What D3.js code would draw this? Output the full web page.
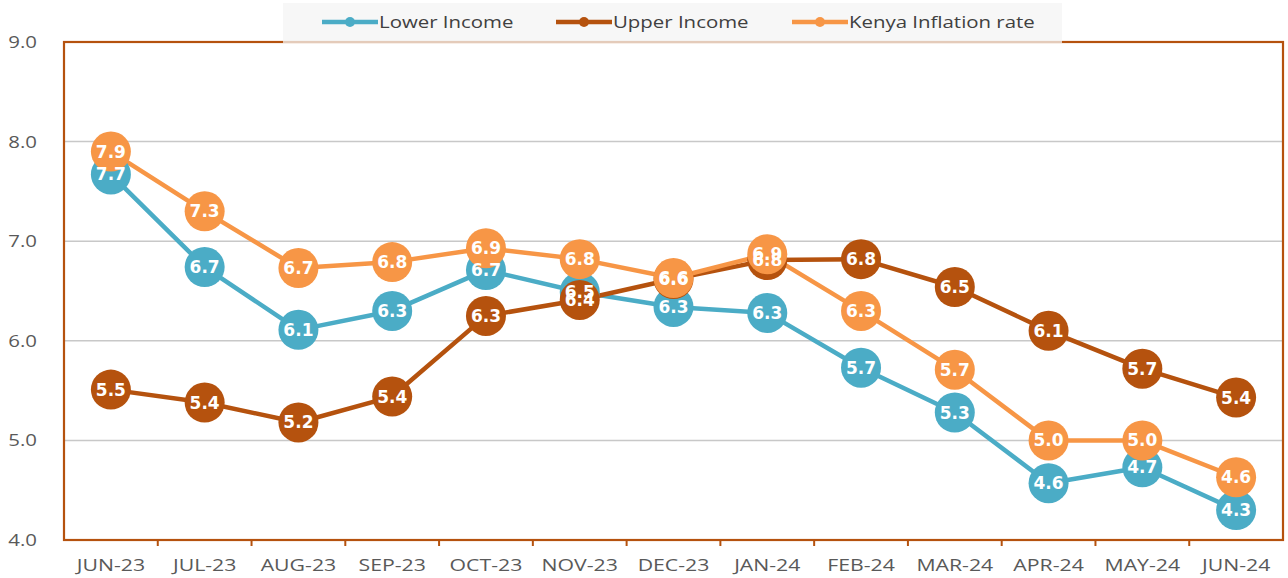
<!DOCTYPE html>
<html><head><meta charset="utf-8">
<script src="https://cdn.jsdelivr.net/npm/d3@7"></script>
<style>body{margin:0;background:#fff}svg{display:block}</style>
</head><body>
<svg id="c" width="1288" height="578"></svg>
<script>
const months = ["JUN-23","JUL-23","AUG-23","SEP-23","OCT-23","NOV-23","DEC-23","JAN-24","FEB-24","MAR-24","APR-24","MAY-24","JUN-24"];
const lowerIncome = [7.67,6.74,6.11,6.30,6.71,6.49,6.34,6.28,5.73,5.28,4.57,4.73,4.30];
const upperIncome = [5.51,5.38,5.18,5.44,6.25,6.41,6.62,6.81,6.82,6.54,6.10,5.72,5.43];
const kenyaInflation = [7.90,7.30,6.73,6.79,6.93,6.82,6.63,6.87,6.30,5.71,5.00,5.00,4.63];
const yTicks = [4,5,6,7,8,9];
const seriesNames = ["Lower Income","Upper Income","Kenya Inflation rate"];
const colors = ["#4BACC6","#B5520E","#F79646"];

const svg = d3.select("#c");
const L=64, R=1283, T=42, B=540;
const x = d3.scaleBand().domain(months).range([L,R]);
const y = d3.scaleLinear().domain([4,9]).range([B,T]);
const stretch = (sel,f)=>sel.each(function(){const w=this.getComputedTextLength();d3.select(this).attr("textLength",w*f).attr("lengthAdjust","spacingAndGlyphs");});

// gridlines
svg.append("g").selectAll("line").data(yTicks.filter(d=>d>4&&d<9)).join("line")
  .attr("x1",L).attr("x2",R).attr("y1",d=>y(d)).attr("y2",d=>y(d))
  .attr("stroke","#c8c8c8").attr("stroke-width",1.5);

// y labels
svg.append("g").selectAll("text").data(yTicks).join("text")
  .attr("x",37).attr("y",d=>y(d)+6).attr("text-anchor","end")
  .attr("font-family","'Open Sans',sans-serif").attr("font-size",17).attr("fill","#595959")
  .text(d3.format(".1f")).call(stretch,1.2);

// x axis
const xa = svg.append("g").attr("transform",`translate(0,${B})`)
  .call(d3.axisBottom(x).tickSize(0).tickPadding(19));
xa.select(".domain").remove();
xa.selectAll("text").attr("font-family","'Open Sans',sans-serif").attr("font-size",17).attr("fill","#595959")
  .call(stretch,1.25);
svg.append("g").selectAll("line").data(months.slice(1)).join("line")
  .attr("x1",d=>x(d)).attr("x2",d=>x(d)).attr("y1",B).attr("y2",B+6)
  .attr("stroke","#B5520E").attr("stroke-width",2);

// border
svg.append("rect").attr("x",L).attr("y",T).attr("width",R-L).attr("height",B-T)
  .attr("fill","none").attr("stroke","#B5520E").attr("stroke-width",2.2);

const data = [lowerIncome, upperIncome, kenyaInflation];
const cx = i=>x(months[i])+x.bandwidth()/2;
const line = d3.line().x((d,i)=>cx(i)).y(d=>y(d));
data.forEach((vals,s)=>{
  svg.append("path").datum(vals).attr("d",line).attr("fill","none")
    .attr("stroke",colors[s]).attr("stroke-width",4.5).attr("stroke-linejoin","round");
});
data.forEach((vals,s)=>{
  svg.append("g").selectAll("circle").data(vals).join("circle")
    .attr("cx",(d,i)=>cx(i)).attr("cy",d=>y(d)).attr("r",20)
    .attr("fill",colors[s]);
});
data.forEach((vals,s)=>{
  svg.append("g").selectAll("text").data(vals).join("text")
    .attr("x",(d,i)=>cx(i)).attr("y",d=>y(d)+6)
    .attr("text-anchor","middle").attr("font-family","'DejaVu Sans',Verdana,sans-serif")
    .attr("font-weight","bold").attr("font-size",17).attr("fill","#fff")
    .text(d3.format(".1f"));
});

// legend
const lg = svg.append("g");
lg.append("rect").attr("x",283).attr("y",3).attr("width",779).attr("height",40)
  .attr("fill","#f4f4f4").attr("opacity",0.75);
const legX = [322,556,792];
seriesNames.forEach((n,i)=>{
  const g = lg.append("g").attr("transform",`translate(${legX[i]},22)`);
  g.append("line").attr("x1",0).attr("x2",56).attr("stroke",colors[i]).attr("stroke-width",4.5);
  g.append("circle").attr("cx",28).attr("r",5).attr("fill",colors[i]);
  g.append("text").attr("x",57).attr("y",6).attr("font-family","'Open Sans',sans-serif")
    .attr("font-size",17).attr("fill","#404040").text(n).call(stretch,1.2);
});
</script>
</body></html>
